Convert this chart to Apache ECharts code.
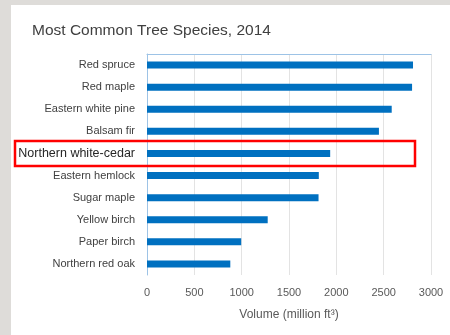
<!DOCTYPE html>
<html>
<head>
<meta charset="utf-8">
<script src="https://cdn.jsdelivr.net/npm/echarts@6/dist/echarts.min.js"></script>
<style>
html,body{margin:0;padding:0;width:450px;height:335px;overflow:hidden;background:#dedcd9;}
#chart{position:absolute;left:11px;top:5px;width:439px;height:330px;background:#ffffff;}
</style>
</head>
<body>
<div id="chart"></div>
<script>
const categories = ['Red spruce','Red maple','Eastern white pine','Balsam fir','Northern white-cedar','Eastern hemlock','Sugar maple','Yellow birch','Paper birch','Northern red oak'];
const volumes = [2810, 2800, 2585, 2450, 1935, 1815, 1812, 1275, 995, 880];
const xTicks = [0, 500, 1000, 1500, 2000, 2500, 3000];
const titleText = 'Most Common Tree Species, 2014';
const axisTitle = 'Volume (million ft³)';
const highlighted = 'Northern white-cedar';

const chart = echarts.init(document.getElementById('chart'), null, {renderer:'canvas'});
const font = 'Liberation Sans, Arial, sans-serif';
chart.setOption({
  animation:false,
  title:{text:titleText,left:16,top:13,textStyle:{fontFamily:font,fontSize:15.5,fontWeight:'normal',color:'#404040'}},
  grid:{left:136,right:19,top:49,bottom:60,containLabel:false},
  xAxis:[{
    type:'value',min:xTicks[0],max:xTicks[xTicks.length-1],interval:500,
    axisLine:{show:false},axisTick:{show:false},
    splitLine:{show:true,lineStyle:{color:'#e3e3e3',width:1}},
    axisLabel:{fontFamily:font,fontSize:11,color:'#595959',margin:12,formatter:function(v){return String(v);}},
    name:axisTitle,nameLocation:'middle',nameGap:34,
    nameTextStyle:{fontFamily:font,fontSize:12,color:'#595959'}
  },{
    type:'value',position:'top',min:0,max:3000,
    axisLine:{show:true,lineStyle:{color:'#9dc3e6',width:1}},
    axisTick:{show:false},axisLabel:{show:false},splitLine:{show:false}
  }],
  yAxis:[{
    type:'category',data:categories,inverse:true,
    axisLine:{show:false},axisTick:{show:false},
    axisLabel:{fontFamily:font,fontSize:11,color:'#404040',margin:12,
      formatter:function(v){return v===highlighted?'{h|'+v+'}':v;},
      rich:{h:{fontFamily:font,fontSize:12.5,color:'#262626'}}}
  },{
    type:'category',data:categories,inverse:true,position:'right',
    axisLine:{show:true,lineStyle:{color:'#9dc3e6',width:1}},
    axisTick:{show:false},axisLabel:{show:false}
  }],
  series:[{
    type:'bar',data:volumes,barWidth:7,xAxisIndex:0,yAxisIndex:0,
    itemStyle:{color:'#0070c0'},silent:true
  }]
});
const yc = chart.convertToPixel({yAxisIndex:0}, highlighted);
chart.setOption({graphic:[{
  type:'rect',shape:{x:4,y:yc-12.5,width:400,height:25},
  style:{fill:'none',stroke:'#ff0000',lineWidth:2.5},z:100
}]});
</script>
</body>
</html>
